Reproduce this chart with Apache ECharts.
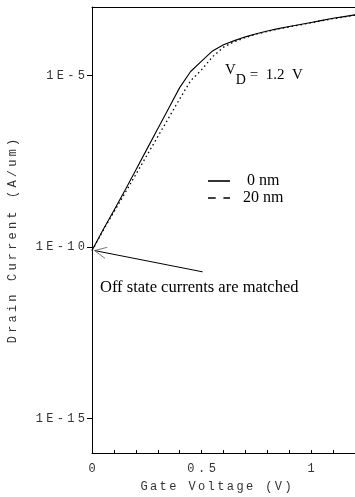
<!DOCTYPE html>
<html>
<head>
<meta charset="utf-8">
<script src="https://cdn.jsdelivr.net/npm/echarts@6/dist/echarts.min.js"></script>
<style>
  html, body { margin: 0; padding: 0; background: #fff; }
  #chart { width: 355px; height: 497px; }
</style>
</head>
<body>
<div id="chart"></div>
<script>
// Gate voltage sweep (V)
const gateVoltage = [0, 0.05, 0.1, 0.15, 0.2, 0.25, 0.3, 0.35, 0.4, 0.45, 0.5, 0.55, 0.6,
                     0.65, 0.7, 0.75, 0.8, 0.85, 0.9, 0.95, 1.0, 1.05, 1.1, 1.15, 1.2];
// log10 of drain current (A/um), V_D = 1.2 V
const logId0nm  = [-10.1, -9.5, -8.93, -8.35, -7.75, -7.15, -6.55, -5.95, -5.35, -4.88, -4.58, -4.28, -4.1,
                   -3.98, -3.87, -3.78, -3.7, -3.63, -3.57, -3.51, -3.45, -3.39, -3.33, -3.28, -3.23];
const logId20nm = [-10.1, -9.52, -8.97, -8.43, -7.88, -7.33, -6.78, -6.23, -5.68, -5.15, -4.83, -4.45, -4.17,
                   -4.01, -3.89, -3.79, -3.71, -3.64, -3.58, -3.52, -3.46, -3.4, -3.34, -3.29, -3.24];
const seriesNames = ['0 nm', '20 nm'];
// Axis ticks
const xTickValues = [0, 0.1, 0.2, 0.3, 0.4, 0.5, 0.6, 0.7, 0.8, 0.9, 1.0, 1.1, 1.2];
const xLabelValues = [0, 0.5, 1];
const yLabelExponents = [-15, -10, -5];

const MONO = 'Liberation Mono';
const SERIF = 'Liberation Serif';

// Widen the typewriter-style text by interleaving small gap tokens
function spaced(str) {
  return str.split('').join('{g| }');
}

const chart = echarts.init(document.getElementById('chart'), null, { renderer: 'canvas' });

const monoText = { fontFamily: MONO, fontSize: 12, color: '#333' };

const option = {
  animation: false,
  backgroundColor: '#fff',
  grid: { left: 92, right: 0, top: 7, bottom: 44, containLabel: false },
  xAxis: [{
    type: 'value', min: 0, max: 1.2, position: 'bottom',
    axisLine: { show: true, onZero: false, lineStyle: { color: '#000', width: 1 } },
    axisTick: { show: true, inside: true, length: 3, customValues: xTickValues, lineStyle: { color: '#000' } },
    axisLabel: {
      show: true, customValues: xLabelValues, margin: 10,
      formatter: v => spaced(String(v)),
      ...monoText,
      rich: { g: { fontFamily: MONO, fontSize: 6 } }
    },
    splitLine: { show: false }
  }, {
    type: 'value', min: 0, max: 1.2, position: 'top',
    axisLine: { show: true, onZero: false, lineStyle: { color: '#000', width: 1 } },
    axisTick: { show: false }, axisLabel: { show: false }, splitLine: { show: false }
  }],
  yAxis: {
    type: 'value', min: -16, max: -3,
    axisLine: { show: true, onZero: false, lineStyle: { color: '#000', width: 1 } },
    axisTick: { show: true, inside: false, length: 5, customValues: yLabelExponents, lineStyle: { color: '#000' } },
    axisLabel: {
      show: true, customValues: yLabelExponents, margin: 7,
      formatter: v => spaced('1E' + v),
      ...monoText,
      rich: { g: { fontFamily: MONO, fontSize: 5.5 } }
    },
    splitLine: { show: false }
  },
  legend: {
    show: true,
    orient: 'vertical', left: 203, top: 168, right: 'auto', bottom: 'auto',
    itemWidth: 22, itemHeight: 10, itemGap: 1,
    textStyle: { fontFamily: SERIF, fontSize: 16, lineHeight: 16, color: '#000' },
    data: [
      { name: seriesNames[0], icon: 'path://M0,4.2L22,4.2L22,5.8L0,5.8Z' },
      { name: seriesNames[1], icon: 'path://M0,4.3L7,4.3L7,5.7L0,5.7ZM14,4.3L20,4.3L20,5.7L14,5.7Z' }
    ],
    formatter: name => (name === seriesNames[0] ? '   ' : '  ') + name
  },
  series: [{
    name: seriesNames[0], type: 'line', symbol: 'none', smooth: false,
    data: gateVoltage.map((v, i) => [v, logId0nm[i]]),
    lineStyle: { color: '#000', width: 1.1, type: 'solid' },
    itemStyle: { color: '#000' }
  }, {
    name: seriesNames[1], type: 'line', symbol: 'none', smooth: false,
    data: gateVoltage.map((v, i) => [v, logId20nm[i]]),
    lineStyle: { color: '#000', width: 1.3, type: [1.5, 3] },
    itemStyle: { color: '#000' }
  }]
};
chart.setOption(option);

// Annotations placed from data coordinates
const toPx = p => chart.convertToPixel({ xAxisIndex: 0, yAxisIndex: 0 }, p);
const tip = toPx([0.012, -10.1]);
const tail = toPx([0.505, -10.72]);
const ang = Math.atan2(tail[1] - tip[1], tail[0] - tip[0]);
const barbLen = 13, barbAng = 0.45;
const barb1 = [tip[0] + barbLen * Math.cos(ang - barbAng), tip[1] + barbLen * Math.sin(ang - barbAng)];
const barb2 = [tip[0] + barbLen * Math.cos(ang + barbAng), tip[1] + barbLen * Math.sin(ang + barbAng)];

chart.setOption({
  graphic: [
    {
      type: 'polyline', shape: { points: [tip, tail] },
      style: { stroke: '#000', lineWidth: 1, fill: null }
    },
    {
      type: 'polyline', shape: { points: [barb1, tip, barb2] },
      style: { stroke: '#555', lineWidth: 0.8, fill: null }
    },
    {
      type: 'text', left: 100, top: 279,
      style: { text: 'Off state currents are matched', font: '16.5px "Liberation Serif"', fill: '#000' }
    },
    {
      type: 'text', x: 225, y: 63,
      style: {
        text: '{v|V}{d|D}{n| =  1.2  V}',
        rich: {
          v: { fontFamily: SERIF, fontSize: 15, color: '#000', verticalAlign: 'top' },
          d: { fontFamily: SERIF, fontSize: 14, color: '#000', padding: [10, 0, 0, 0] },
          n: { fontFamily: SERIF, fontSize: 15, color: '#000' }
        }
      }
    },
    {
      type: 'text', x: 216, y: 487,
      style: {
        text: spaced('Gate Voltage (V)'),
        fill: '#333', font: '12px "Liberation Mono"',
        align: 'center', verticalAlign: 'middle',
        rich: { g: { fontFamily: MONO, fontSize: 4, color: '#333' } }
      }
    },
    {
      type: 'text', x: 13, y: 241, rotation: Math.PI / 2,
      style: {
        text: spaced('Drain Current (A/um)'),
        fill: '#333', font: '12px "Liberation Mono"',
        align: 'center', verticalAlign: 'middle',
        rich: { g: { fontFamily: MONO, fontSize: 5.3, color: '#333' } }
      }
    }
  ]
});
</script>
</body>
</html>
